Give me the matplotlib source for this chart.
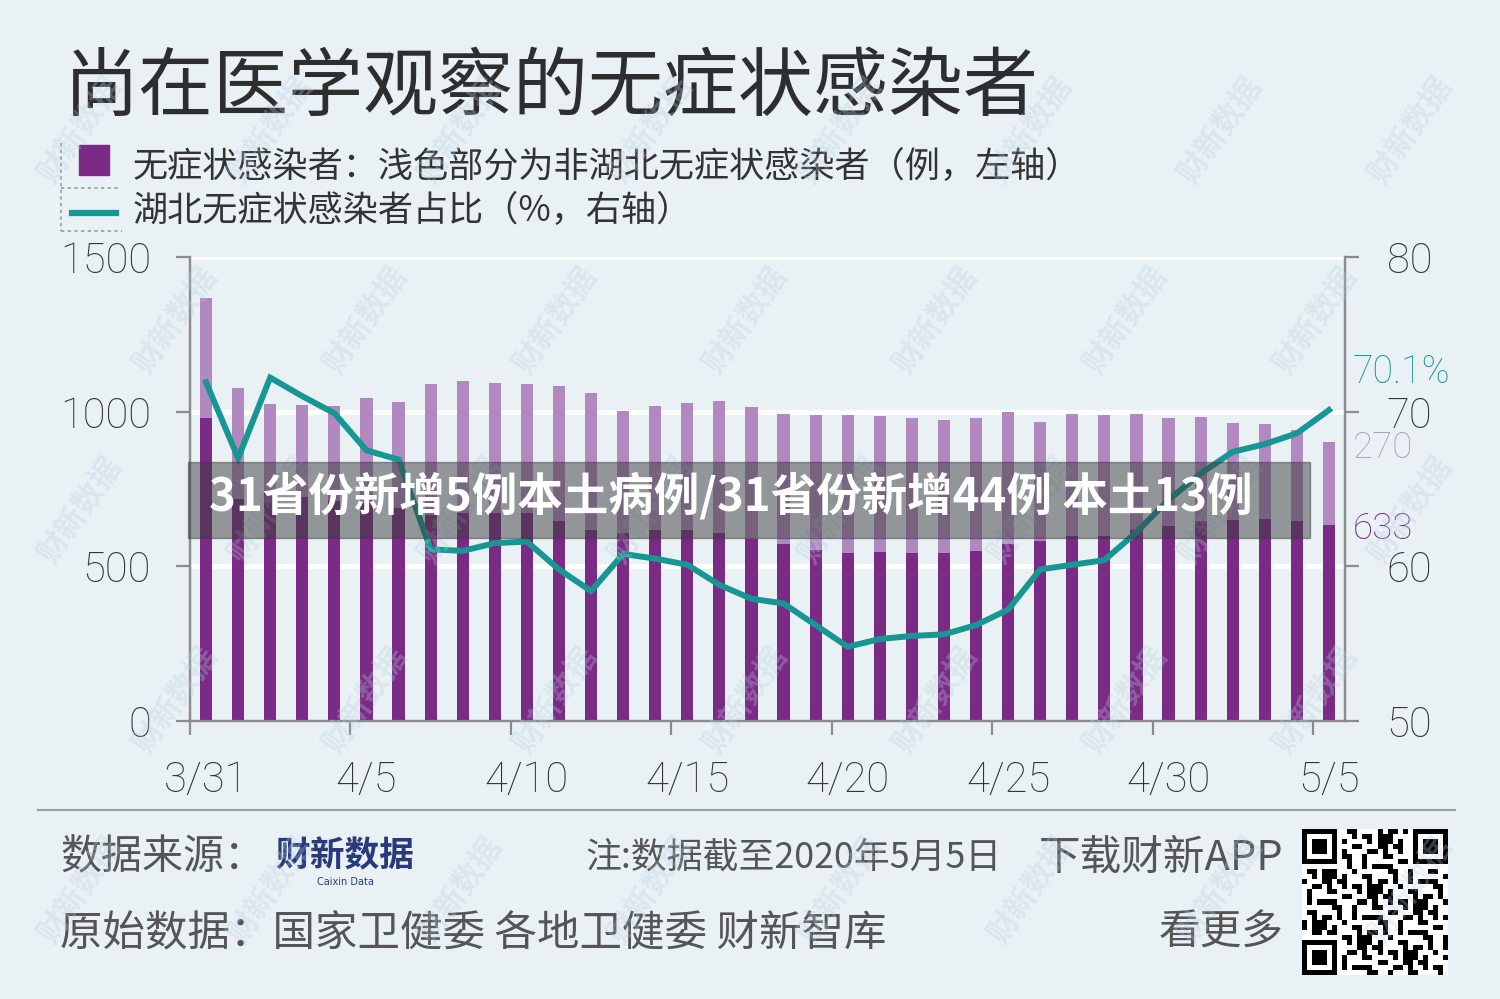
import numpy as np
import matplotlib
matplotlib.use("Agg")
import matplotlib.pyplot as plt
from matplotlib.patches import Rectangle
from matplotlib.lines import Line2D

plt.rcParams['font.family'] = ['Noto Sans CJK SC', 'DejaVu Sans']

# data
date_labels = ['3/31', '4/5', '4/10', '4/15', '4/20', '4/25', '4/30', '5/5']
total = [1367, 1076, 1025, 1020, 1019, 1045, 1030, 1090, 1100, 1094,
         1090, 1084, 1060, 1003, 1019, 1029, 1035, 1014, 992, 989,
         989, 987, 978, 973, 978, 998, 968, 992, 989, 992,
         978, 984, 962, 959, 941, 903]
hubei = [978, 719, 740, 724, 712, 705, 689, 666, 671, 673,
         671, 645, 618, 609, 617, 617, 609, 588, 571, 552,
         543, 547, 543, 542, 551, 572, 582, 598, 598, 617,
         630, 646, 649, 652, 648, 633]
pct = [71.9, 67.0, 72.2, 71.0, 69.9, 67.5, 66.9, 61.1, 61.0, 61.5,
       61.6, 59.8, 58.4, 60.8, 60.5, 60.1, 58.8, 57.9, 57.6, 56.2,
       54.8, 55.3, 55.5, 55.6, 56.2, 57.2, 59.8, 60.1, 60.4, 62.2,
       64.3, 66.0, 67.4, 67.9, 68.6, 70.1]
left_ticks = [0, 500, 1000, 1500]
right_ticks = [50, 60, 70, 80]

W, H = 1500, 999
BG = '#e9f1f5'
DARK = '#7b2a86'
LIGHT = '#b189c0'
TEAL = '#179693'
GREY = '#8c8c8c'
TXT = '#333333'
NUM = ['Roboto', 'DejaVu Sans']


def fx(x):
    return x / W


def fy(y):
    return 1 - y / H


fig = plt.figure(figsize=(15, 9.99), dpi=100, facecolor=BG)

ax = fig.add_axes([fx(190), fy(721), (1345 - 190) / W, (721 - 257) / H])
ax.set_facecolor(BG)
x = np.arange(len(total)) + 0.5
for g in left_ticks[1:]:
    ax.axhline(g, color='white', lw=3.5, zorder=0)
ax.bar(x, total, width=0.38, color=LIGHT, zorder=2)
ax.bar(x, hubei, width=0.38, color=DARK, zorder=3)
ax.set_xlim(0, 36)
ax.set_ylim(0, 1500)
ax.set_yticks(left_ticks)
ax.set_yticklabels([str(t) for t in left_ticks], family=NUM, fontsize=30,
                   fontweight='light', color=TXT)
ax.set_xticks(np.arange(0, 36, 5))
ax.set_xticklabels([])
ax.set_xticks(np.arange(0, 36, 5) + 0.5, minor=True)
ax.set_xticklabels(date_labels, minor=True, family=NUM, fontsize=30,
                   fontweight='light', color=TXT)
ax.tick_params(axis='x', which='major', length=10, width=1.6, color=GREY, direction='out')
ax.tick_params(axis='x', which='minor', length=0, pad=28)
ax.tick_params(axis='y', length=10, width=1.6, color=GREY, pad=18)
for s in ['left', 'bottom', 'right']:
    ax.spines[s].set_color(GREY)
    ax.spines[s].set_linewidth(1.6)
ax.spines['top'].set_visible(False)

ax2 = ax.twinx()
ax2.plot(x, pct, color=TEAL, lw=4.3, solid_joinstyle='miter', zorder=5)
ax2.set_ylim(50, 80)
ax2.set_yticks(right_ticks)
ax2.set_yticklabels([str(t) for t in right_ticks], family=NUM, fontsize=30,
                    fontweight='light', color=TXT)
ax2.tick_params(axis='y', length=10, width=1.6, color=GREY, pad=20)
for s in ['left', 'bottom', 'right']:
    ax2.spines[s].set_color(GREY)
    ax2.spines[s].set_linewidth(1.6)
ax2.spines['top'].set_visible(False)

# end labels
ax2.annotate('%.1f%%' % pct[-1], xy=(36, pct[-1]), xytext=(8, 38),
             textcoords='offset pixels', ha='left', va='center',
             color=TEAL, fontsize=27, family=NUM, fontweight='light',
             annotation_clip=False)
ax.annotate(str(total[-1] - hubei[-1]), xy=(36, total[-1]), xytext=(8, -6),
            textcoords='offset pixels', ha='left', va='center',
            color='#b59ac6', fontsize=26.5, family=NUM, fontweight='light',
            annotation_clip=False)
ax.annotate(str(hubei[-1]), xy=(36, hubei[-1]), xytext=(8, -4),
            textcoords='offset pixels', ha='left', va='center',
            color='#6b2b7b', fontsize=26.5, family=NUM, fontweight='light',
            annotation_clip=False)

# title and legend
fig.text(fx(64), fy(88), '尚在医学观察的无症状感染者', fontsize=54, color='#2e2e2e',
         ha='left', va='center')
fig.patches.append(Rectangle((fx(79), fy(175)), 30 / W, 30 / H, transform=fig.transFigure,
                             color=DARK))
fig.lines.append(Line2D([fx(72), fx(116)], [fy(213), fy(213)], transform=fig.transFigure,
                        color=TEAL, lw=4.5))
for xs, ys in [([61, 61], [143, 231]), ([61, 118], [188, 188]), ([61, 122], [231, 231])]:
    fig.lines.append(Line2D([fx(v) for v in xs], [fy(v) for v in ys], transform=fig.transFigure,
                            color='#9a9a9a', lw=1.2, ls=(0, (2, 2))))
fig.text(fx(133), fy(167), '无症状感染者：浅色部分为非湖北无症状感染者（例，左轴）',
         fontsize=25.3, color=TXT, ha='left', va='center', fontweight='light')
fig.text(fx(133), fy(211), '湖北无症状感染者占比（%，右轴）',
         fontsize=25.3, color=TXT, ha='left', va='center', fontweight='light')

# footer
fig.lines.append(Line2D([fx(38), fx(1455)], [fy(810), fy(810)], transform=fig.transFigure,
                        color='#9aa0a4', lw=1.5))
FT = '#555555'
fig.text(fx(60), fy(858), '数据来源：', fontsize=29.5, color=FT, ha='left', va='center',
         fontweight='light')
fig.text(fx(275), fy(856), '财新数据', fontsize=25, color='#283a7c', fontweight='bold',
         ha='left', va='center')
fig.text(fx(345), fy(882), 'Caixin Data', fontsize=7, color='#283a7c', ha='center',
         va='center', family=['DejaVu Sans'])
fig.text(fx(585), fy(858), '注:数据截至2020年5月5日', fontsize=25.8, color=FT,
         ha='left', va='center', fontweight='light')
fig.text(fx(1283), fy(858), '下载财新APP', fontsize=30, color=FT, ha='right', va='center',
         fontweight='light')
fig.text(fx(60), fy(933), '原始数据：国家卫健委 各地卫健委 财新智库', fontsize=30.6,
         color=FT, ha='left', va='center', fontweight='light')
fig.text(fx(1283), fy(933), '看更多', fontsize=30, color=FT, ha='right', va='center',
         fontweight='light')

# qr-like block (decorative)
n = 29
bits = np.unpackbits(np.frombuffer(('caixin data ' * 80).encode(), dtype=np.uint8))[:n * n]
qr = bits.reshape(n, n).astype(float)
for r0, c0 in [(0, 0), (0, n - 7), (n - 7, 0)]:
    qr[max(r0 - 1, 0):r0 + 8, max(c0 - 1, 0):c0 + 8] = 0
    qr[r0:r0 + 7, c0:c0 + 7] = 1
    qr[r0 + 1:r0 + 6, c0 + 1:c0 + 6] = 0
    qr[r0 + 2:r0 + 5, c0 + 2:c0 + 5] = 1
qax = fig.add_axes([fx(1302), fy(975), 146 / W, 146 / H])
qax.imshow(1 - qr, cmap='gray', interpolation='nearest', vmin=0, vmax=1)
qax.axis('off')

# watermarks
for row, yy in enumerate(range(130, 960, 190)):
    off = 95 if row % 2 else 0
    for xx in range(80 + off, 1440, 190):
        fig.text(fx(xx), fy(yy), '财新数据', fontsize=22, fontweight='bold', color='#b9cfe0',
                 alpha=0.3, rotation=55, ha='center', va='center', zorder=6)

# overlay banner
fig.patches.append(Rectangle((fx(188), fy(538)), (1310 - 188) / W, 76 / H,
                             transform=fig.transFigure, color='#3c3c3c', alpha=0.5, zorder=8))
fig.text(fx(209), fy(497), '31省份新增5例本土病例/31省份新增44例 本土13例', fontsize=32.8,
         fontweight='bold', color='white', ha='left', va='center', zorder=9)

fig.savefig('out.png', dpi=100, facecolor=BG)
